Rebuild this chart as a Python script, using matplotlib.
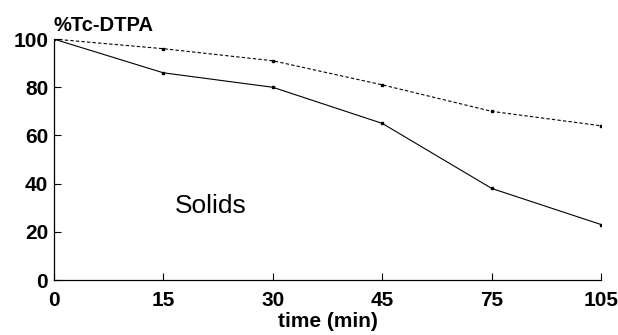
import matplotlib.pyplot as plt

times = ['0', '15', '30', '45', '75', '105']
solid_pct = [100, 86, 80, 65, 38, 23]
dashed_pct = [100, 96, 91, 81, 70, 64]
y_ticks = [0, 20, 40, 60, 80, 100]

plt.rcParams['font.family'] = ['Liberation Sans', 'DejaVu Sans']

fig = plt.figure(figsize=(6.18, 3.35), dpi=100)
ax = fig.add_axes([0.087, 0.164, 0.886, 0.7194])

pos = list(range(len(times)))
ax.plot(pos, solid_pct, color='black', linewidth=0.8, marker='s', markersize=1.8)
ax.plot(pos, dashed_pct, color='black', linewidth=0.8, linestyle=(0, (3, 2)),
        marker='s', markersize=1.8)

ax.set_xlim(0, len(times) - 1)
ax.set_ylim(0, 100)
ax.set_xticks(pos)
ax.set_xticklabels(times)
ax.set_yticks(y_ticks)

for side in ['top', 'right']:
    ax.spines[side].set_visible(False)
ax.spines['left'].set_linewidth(0.9)
ax.spines['bottom'].set_linewidth(0.9)
ax.tick_params(direction='in', length=5, width=0.8, labelsize=15)
ax.tick_params(axis='x', pad=8)
ax.tick_params(axis='y', pad=4)
for lbl in ax.get_xticklabels() + ax.get_yticklabels():
    lbl.set_fontweight('bold')

ax.set_xlabel('time (min)', fontsize=15, fontweight='bold', labelpad=1)
fig.text(0.086, 0.925, '%Tc-DTPA', fontsize=14.5, fontweight='bold', va='center')
ax.text(1.11, 30.7, 'Solids', fontsize=19, va='center')

fig.savefig('out.png', dpi=100)
